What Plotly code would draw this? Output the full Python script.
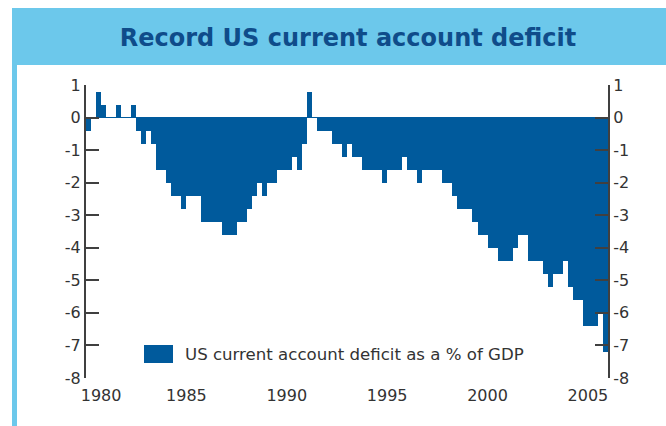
import plotly.graph_objects as go

# US current account balance, % of GDP, quarterly 1980Q1 - 2005Q4
first_year = 1980
deficit_pct = [
    -0.4, 0.0, 0.8, 0.4,      # 1980
    0.0, 0.0, 0.4, 0.0,       # 1981
    0.0, 0.4, -0.4, -0.8,     # 1982
    -0.4, -0.8, -1.6, -1.6,   # 1983
    -2.0, -2.4, -2.4, -2.8,   # 1984
    -2.4, -2.4, -2.4, -3.2,   # 1985
    -3.2, -3.2, -3.2, -3.6,   # 1986
    -3.6, -3.6, -3.2, -3.2,   # 1987
    -2.8, -2.4, -2.0, -2.4,   # 1988
    -2.0, -2.0, -1.6, -1.6,   # 1989
    -1.6, -1.2, -1.6, -0.8,   # 1990
    0.8, 0.0, -0.4, -0.4,     # 1991
    -0.4, -0.8, -0.8, -1.2,   # 1992
    -0.8, -1.2, -1.2, -1.6,   # 1993
    -1.6, -1.6, -1.6, -2.0,   # 1994
    -1.6, -1.6, -1.6, -1.2,   # 1995
    -1.6, -1.6, -2.0, -1.6,   # 1996
    -1.6, -1.6, -1.6, -2.0,   # 1997
    -2.0, -2.4, -2.8, -2.8,   # 1998
    -2.8, -3.2, -3.6, -3.6,   # 1999
    -4.0, -4.0, -4.4, -4.4,   # 2000
    -4.4, -4.0, -3.6, -3.6,   # 2001
    -4.4, -4.4, -4.4, -4.8,   # 2002
    -5.2, -4.8, -4.8, -4.4,   # 2003
    -5.2, -5.6, -5.6, -6.4,   # 2004
    -6.4, -6.4, -6.0, -7.2,   # 2005
]
quarter_start = [first_year + 0.25 * i for i in range(len(deficit_pct))]

year_ticks = [1980, 1985, 1990, 1995, 2000, 2005]
y_ticks = list(range(-8, 2))
y_tick_text = [str(v) if v >= 0 else "-" + str(-v) for v in y_ticks]

series_name = "US current account deficit as a % of GDP"

BAR_BLUE = "#005A9C"
FRAME_BLUE = "#6CC8EB"
TITLE_BLUE = "#0F4C8A"
AXIS_GREY = "#404040"
TEXT_GREY = "#333333"
FONT = "DejaVu Sans"

W, H = 666, 426
L, R, T, B = 86, 58, 85, 48
plot_w = W - L - R
plot_h = H - T - B


def px_x(px):
    return (px - L) / plot_w


def px_y(py):
    return (H - B - py) / plot_h


fig = go.Figure()
fig.add_trace(go.Bar(
    x=quarter_start,
    y=deficit_pct,
    width=0.25,
    offset=0,
    marker=dict(color=BAR_BLUE, line=dict(width=0)),
    name=series_name,
    showlegend=False,
    hoverinfo="x+y",
))
# empty trace so the right-hand value axis gets drawn
fig.add_trace(go.Scatter(x=[], y=[], yaxis="y2", showlegend=False, hoverinfo="skip"))

axis_common = dict(
    range=[-8, 1],
    tickvals=y_ticks,
    ticktext=y_tick_text,
    ticks="inside",
    ticklen=13,
    tickwidth=2,
    tickcolor=AXIS_GREY,
    showline=True,
    linewidth=2,
    linecolor=AXIS_GREY,
    showgrid=False,
    tickfont=dict(family=FONT, size=16, color=TEXT_GREY),
)

# the 1980 label sits a little right so it clears the left axis line
x_tick_pos = [y + 0.75 if y == 1980 else y for y in year_ticks]

fig.update_layout(
    width=W,
    height=H,
    margin=dict(l=L, r=R, t=T, b=B),
    paper_bgcolor="white",
    plot_bgcolor="white",
    bargap=0,
    title=dict(
        text="<b>Record US current account deficit</b>",
        x=348 / W,
        xanchor="center",
        y=1 - 38 / H,
        yanchor="middle",
        font=dict(family=FONT, size=24, color=TITLE_BLUE),
    ),
    xaxis=dict(
        range=[1980, 2006],
        tickvals=x_tick_pos,
        ticktext=[str(y) for y in year_ticks],
        ticks="",
        showline=False,
        showgrid=False,
        zeroline=False,
        ticklabelstandoff=6,
        tickfont=dict(family=FONT, size=16, color=TEXT_GREY),
    ),
    yaxis=dict(**axis_common, zeroline=True, zerolinecolor=BAR_BLUE, zerolinewidth=1),
    yaxis2=dict(**axis_common, overlaying="y", side="right", anchor="x", zeroline=False),
    showlegend=False,
)

# title band and the frame edge on the left
fig.add_shape(type="rect", xref="paper", yref="paper",
              x0=px_x(12), x1=px_x(666), y0=px_y(65), y1=px_y(8),
              fillcolor=FRAME_BLUE, line=dict(width=0), layer="below")
fig.add_shape(type="rect", xref="paper", yref="paper",
              x0=px_x(12), x1=px_x(17), y0=px_y(426), y1=px_y(65),
              fillcolor=FRAME_BLUE, line=dict(width=0), layer="below")

# key
fig.add_shape(type="rect", xref="paper", yref="paper",
              x0=px_x(144), x1=px_x(173), y0=px_y(363), y1=px_y(345),
              fillcolor=BAR_BLUE, line=dict(width=0))
fig.add_annotation(xref="paper", yref="paper", x=px_x(183), y=px_y(354),
                   text=series_name, showarrow=False, xanchor="left", yanchor="middle",
                   font=dict(family=FONT, size=16.6, color=TEXT_GREY))

fig.write_html("out.html")
